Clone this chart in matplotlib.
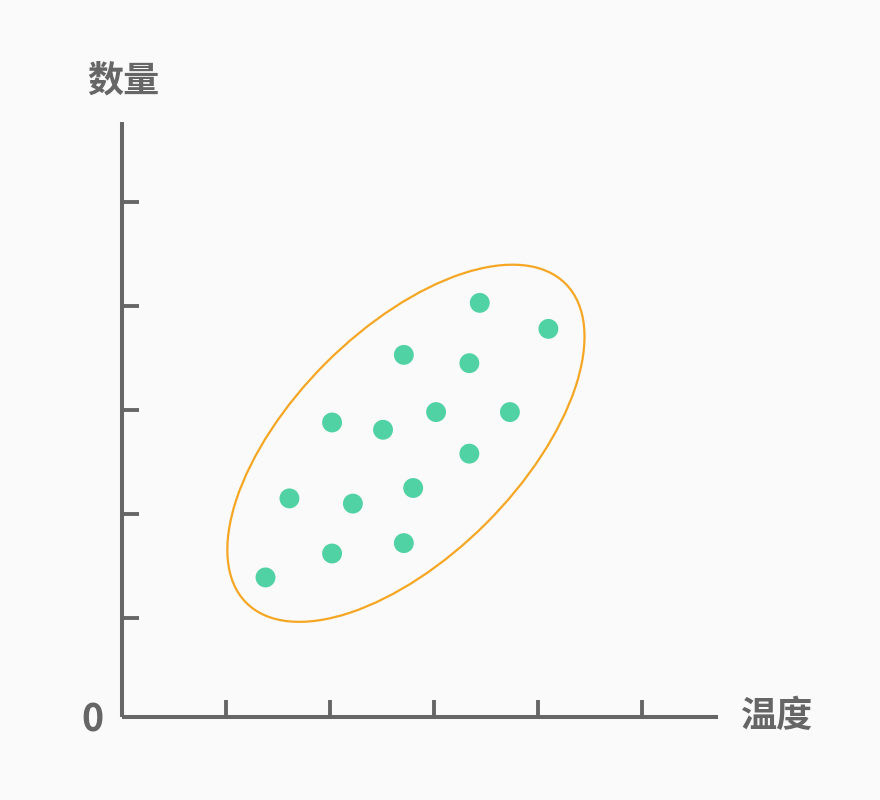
import matplotlib
matplotlib.use('Agg')
import matplotlib.pyplot as plt
from matplotlib.patches import Ellipse

plt.rcParams['font.family'] = ['Noto Sans CJK SC', 'DejaVu Sans']

# data (axis units, one tick = 1)
temp = [1.38, 1.61, 2.02, 2.02, 2.22, 2.51, 2.71, 2.71, 2.80, 3.02, 3.34, 3.34, 3.44, 3.73, 4.10]
count = [1.39, 2.15, 1.62, 2.88, 2.10, 2.81, 3.53, 1.72, 2.25, 2.98, 3.45, 2.58, 4.03, 2.98, 3.78]
ticks = [1, 2, 3, 4, 5]
xlabel = '温度'
ylabel = '数量'

grey = '#666666'
bg = '#fafafa'

fig = plt.figure(figsize=(8.8, 8), dpi=100, facecolor=bg)
ax = fig.add_axes([122/880, 83/800, 596/880, 595/800], facecolor=bg)

ax.scatter(temp, count, s=205, color='#50d2a5', edgecolors='none', zorder=3)

# cluster outline
ell = Ellipse((2.73, 2.68), width=4.34, height=2.18, angle=45,
              fill=False, edgecolor='#f5a623', linewidth=1.6, zorder=2)
ax.add_patch(ell)

ax.set_xlim(0, 596/104)
ax.set_ylim(0.048, 0.048 + 595/104)
ax.set_xticks(ticks)
ax.set_yticks(ticks)
ax.set_xticklabels([])
ax.set_yticklabels([])
ax.tick_params(direction='in', length=12.5, width=2.8, color=grey)

for s in ['top', 'right']:
    ax.spines[s].set_visible(False)
for s in ['left', 'bottom']:
    ax.spines[s].set_color(grey)
    ax.spines[s].set_linewidth(2.9)
    ax.spines[s].set_capstyle('butt')

fig.text(92.5/880, 1 - 720/800, '0', color=grey, fontsize=27, fontweight='bold',
         ha='center', va='center')
fig.text(777/880, 1 - 717/800, xlabel, color=grey, fontsize=26, fontweight='bold',
         ha='center', va='center')
fig.text(123/880, 1 - 81/800, ylabel, color=grey, fontsize=26, fontweight='bold',
         ha='center', va='center')

fig.savefig('out.png', dpi=100, facecolor=bg)
